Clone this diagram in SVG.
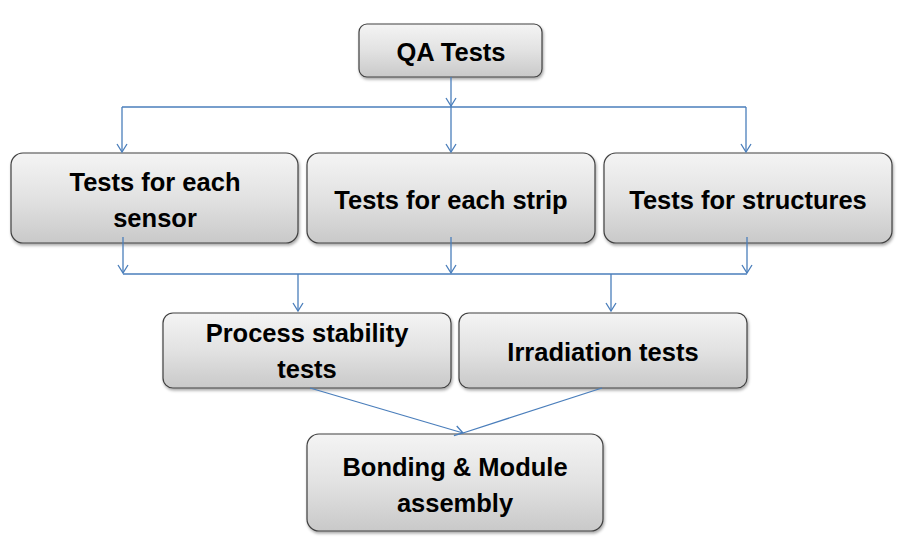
<svg xmlns="http://www.w3.org/2000/svg" width="903" height="546" viewBox="0 0 903 546">
<defs>
<linearGradient id="g" x1="0" y1="0" x2="0" y2="1">
<stop offset="0" stop-color="#f4f4f4"/>
<stop offset="0.5" stop-color="#e2e2e2"/>
<stop offset="1" stop-color="#c9c9c9"/>
</linearGradient>
<filter id="sh" x="-5%" y="-5%" width="110%" height="120%">
<feDropShadow dx="1" dy="2" stdDeviation="1.5" flood-color="#000" flood-opacity="0.35"/>
</filter>
<marker id="ar" markerWidth="12" markerHeight="12" refX="10" refY="6" orient="auto" markerUnits="userSpaceOnUse" viewBox="0 0 12 12">
<path d="M2,1 L10,6 L2,11" fill="none" stroke="#4a7ebb" stroke-width="1.3"/>
</marker>
</defs>
<style>
.box{fill:url(#g);stroke:#404040;stroke-width:1.2;filter:url(#sh)}
.t{font-family:"Liberation Sans",Arial,sans-serif;font-weight:bold;font-size:25.5px;fill:#000;text-anchor:middle}
.c{fill:none;stroke:#4a7ebb;stroke-width:1.3}
</style>
<rect width="903" height="546" fill="#fff"/>
<g id="n-qa"><rect class="box" x="359" y="24" width="183" height="53" rx="8"/><text class="t" x="451" y="61">QA Tests</text></g>
<g id="n-sensor"><rect class="box" x="11" y="153" width="287" height="90" rx="12"/><text class="t" x="155" y="191">Tests for each</text><text class="t" x="155" y="227">sensor</text></g>
<g id="n-strip"><rect class="box" x="307" y="153" width="288" height="90" rx="12"/><text class="t" x="451" y="209">Tests for each strip</text></g>
<g id="n-struct"><rect class="box" x="604" y="153" width="288" height="90" rx="12"/><text class="t" x="748" y="209">Tests for structures</text></g>
<g id="n-process"><rect class="box" x="163" y="313" width="288" height="75" rx="10"/><text class="t" x="307" y="342">Process stability</text><text class="t" x="307" y="378">tests</text></g>
<g id="n-irr"><rect class="box" x="459" y="313" width="288" height="75" rx="10"/><text class="t" x="603" y="361">Irradiation tests</text></g>
<g id="n-bond"><rect class="box" x="307" y="434" width="296" height="97" rx="12"/><text class="t" x="455" y="476">Bonding &amp; Module</text><text class="t" x="455" y="512">assembly</text></g>
<g id="connectors">
<path class="c" d="M451,77 L451,106" marker-end="url(#ar)"/>
<path class="c" d="M451,106 L451,152" marker-end="url(#ar)"/>
<path class="c" d="M122,107 L746,107"/>
<path class="c" d="M122,107 L122,152" marker-end="url(#ar)"/>
<path class="c" d="M746,107 L746,152" marker-end="url(#ar)"/>
<path class="c" d="M123,237 L123,273" marker-end="url(#ar)"/>
<path class="c" d="M451,237 L451,273" marker-end="url(#ar)"/>
<path class="c" d="M747,237 L747,273" marker-end="url(#ar)"/>
<path class="c" d="M123,274 L747,274"/>
<path class="c" d="M298,274 L298,311" marker-end="url(#ar)"/>
<path class="c" d="M611,274 L611,311" marker-end="url(#ar)"/>
<path class="c" d="M310,388 L463,433" marker-end="url(#ar)"/>
<path class="c" d="M602,388 L463,433"/>
</g>
</svg>
